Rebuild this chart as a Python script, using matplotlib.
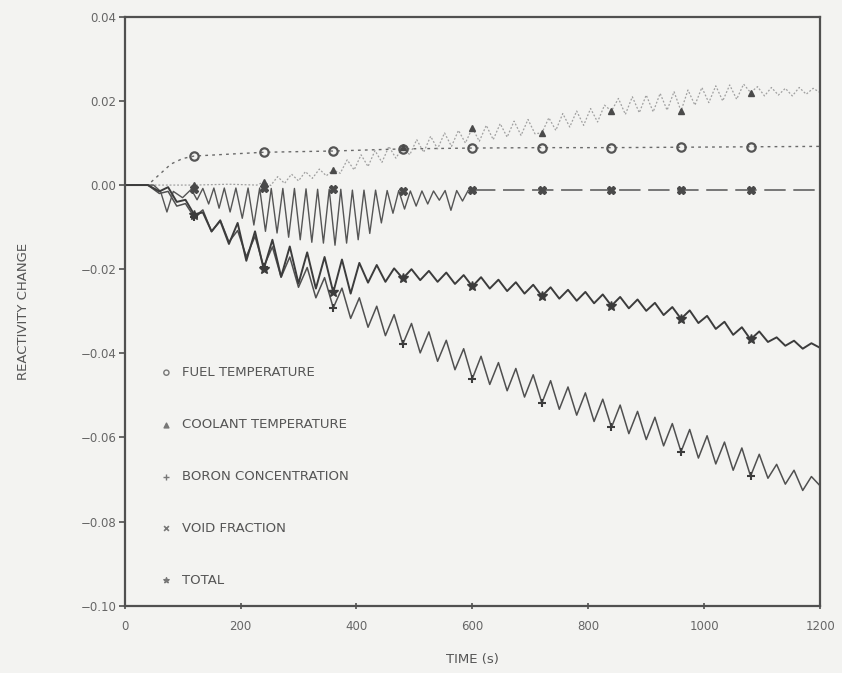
import matplotlib
matplotlib.use("Agg")
import matplotlib.pyplot as plt

# marker times (s), shared by all curves
mark_t = [120, 240, 360, 480, 600, 720, 840, 960, 1080]

# fuel temperature
fuel_t = [0, 40, 60, 80, 100, 120, 240, 360, 480, 600, 720, 840, 960, 1080, 1200]
fuel_y = [0, 0, 0.0025, 0.0050, 0.0063, 0.0069, 0.0078, 0.0081, 0.0086, 0.0088,
          0.0089, 0.0089, 0.0090, 0.0091, 0.0092]
fuel_mark = [0.0069, 0.0078, 0.0081, 0.0086, 0.0088, 0.0089, 0.0089, 0.0090, 0.0091]

# coolant temperature
cool_t = [0, 120, 180, 228,
          240, 252, 264, 276, 288, 300, 312, 324, 336, 348, 360, 372, 384, 396, 408, 420,
          432, 444, 456, 468, 480, 492, 504, 516, 528, 540, 552, 564, 576, 588, 600, 612,
          624, 636, 648, 660, 672, 684, 696, 708, 720, 732, 744, 756, 768, 780, 792, 804,
          816, 828, 840, 852, 864, 876, 888, 900, 912, 924, 936, 948, 960, 972, 984, 996,
          1008, 1020, 1032, 1044, 1056, 1068, 1080, 1092, 1104, 1116, 1128, 1140, 1152,
          1164, 1176, 1188, 1200]
cool_y = [0, 0, 0.0002, 0.0,
          0.0007, -0.0001, 0.0020, 0.0004, 0.0026, 0.0010, 0.0032, 0.0016, 0.0038, 0.0022,
          0.0036, 0.0028, 0.0060, 0.0036, 0.0072, 0.0044, 0.0082, 0.0054, 0.0092, 0.0064,
          0.0090, 0.0072, 0.0108, 0.0078, 0.0116, 0.0086, 0.0124, 0.0092, 0.0130, 0.0100,
          0.0136, 0.0104, 0.0142, 0.0108, 0.0146, 0.0114, 0.0152, 0.0118, 0.0156, 0.0122,
          0.0124, 0.0160, 0.0130, 0.0170, 0.0138, 0.0176, 0.0142, 0.0182, 0.0150, 0.0190,
          0.0176, 0.0206, 0.0168, 0.0210, 0.0172, 0.0214, 0.0174, 0.0218, 0.0178, 0.0222,
          0.0176, 0.0226, 0.0190, 0.0232, 0.0196, 0.0236, 0.0200, 0.0238, 0.0204, 0.0240,
          0.0220, 0.0234, 0.0212, 0.0232, 0.0214, 0.0230, 0.0212, 0.0232, 0.0216, 0.0230,
          0.0220]
cool_mark = [0.0, 0.0007, 0.0036, 0.0090, 0.0136, 0.0124, 0.0176, 0.0176, 0.0220]

# boron concentration and total share one time base
osc_t = [0, 40, 60, 75, 90, 105, 120, 135, 150, 165, 180, 195, 210, 225, 240, 255, 270,
         285, 300, 315, 330, 345, 360, 375, 390, 405, 420, 435, 450, 465, 480, 495, 510,
         525, 540, 555, 570, 585, 600, 615, 630, 645, 660, 675, 690, 705, 720, 735, 750,
         765, 780, 795, 810, 825, 840, 855, 870, 885, 900, 915, 930, 945, 960, 975, 990,
         1005, 1020, 1035, 1050, 1065, 1080, 1095, 1110, 1125, 1140, 1155, 1170, 1185, 1200]

boron_y = [0, 0, -0.0020, -0.0015, -0.0050, -0.0044, -0.0076, -0.0059, -0.0111, -0.0083,
           -0.0135, -0.0108, -0.0170, -0.0122, -0.0194, -0.0147, -0.0219, -0.0171, -0.0243,
           -0.0196, -0.0268, -0.0220, -0.0292, -0.0245, -0.0317, -0.0268, -0.0338, -0.0288,
           -0.0358, -0.0308, -0.0378, -0.0329, -0.0399, -0.0349, -0.0419, -0.0369, -0.0439,
           -0.0389, -0.0460, -0.0407, -0.0474, -0.0422, -0.0489, -0.0436, -0.0504, -0.0451,
           -0.0518, -0.0465, -0.0533, -0.0480, -0.0547, -0.0494, -0.0562, -0.0509, -0.0576,
           -0.0523, -0.0591, -0.0538, -0.0605, -0.0552, -0.0620, -0.0567, -0.0634, -0.0581,
           -0.0649, -0.0596, -0.0663, -0.0611, -0.0678, -0.0625, -0.0692, -0.0640, -0.0697,
           -0.0664, -0.0711, -0.0678, -0.0726, -0.0693, -0.0715]
boron_mark = [-0.0076, -0.0194, -0.0292, -0.0378, -0.0460, -0.0518, -0.0576, -0.0634, -0.0692]

total_y = [0, 0, -0.0015, -0.0005, -0.0040, -0.0035, -0.0070, -0.0065, -0.0110, -0.0085,
           -0.0140, -0.0090, -0.0180, -0.0110, -0.0200, -0.0130, -0.0218, -0.0146, -0.0234,
           -0.0160, -0.0246, -0.0171, -0.0255, -0.0177, -0.0258, -0.0185, -0.0232, -0.0190,
           -0.0230, -0.0198, -0.0222, -0.0200, -0.0226, -0.0204, -0.0230, -0.0208, -0.0235,
           -0.0214, -0.0241, -0.0219, -0.0246, -0.0225, -0.0252, -0.0231, -0.0258, -0.0237,
           -0.0264, -0.0243, -0.0270, -0.0249, -0.0275, -0.0254, -0.0281, -0.0260, -0.0287,
           -0.0266, -0.0293, -0.0272, -0.0299, -0.0280, -0.0309, -0.0290, -0.0318, -0.0298,
           -0.0328, -0.0311, -0.0342, -0.0325, -0.0356, -0.0338, -0.0367, -0.0348, -0.0373,
           -0.0362, -0.0382, -0.0370, -0.0389, -0.0376, -0.0387]
total_mark = [-0.0070, -0.0200, -0.0255, -0.0222, -0.0241, -0.0264, -0.0287, -0.0318, -0.0367]

# void fraction (spiky part up to ~600 s, then flat)
void_t = [0, 50, 62, 73, 84, 100, 115, 125, 135, 145, 154, 163, 172,
          182, 192, 203, 213, 223, 233, 243, 253, 263, 273, 283, 293, 303, 313, 323, 333,
          343, 353, 363, 373, 383, 393, 403, 413, 423, 433, 443, 453, 463, 473, 483, 493,
          503, 513, 523, 533, 543, 553, 563, 573, 583, 593, 603]
void_y = [0, 0, -0.0015, -0.0064, -0.0015, -0.0030, -0.0010, -0.0035, -0.0008, -0.0045,
          -0.0007, -0.0055, -0.0007,
          -0.0064, -0.0007, -0.0079, -0.0007, -0.0095, -0.0007, -0.0110, -0.0008, -0.0114,
          -0.0008, -0.0124, -0.0008, -0.0130, -0.0009, -0.0136, -0.0010, -0.0138, -0.0010,
          -0.0143, -0.0010, -0.0138, -0.0012, -0.0130, -0.0012, -0.0115, -0.0012, -0.0090,
          -0.0013, -0.0067, -0.0013, -0.0057, -0.0014, -0.0050, -0.0014, -0.0045, -0.0014,
          -0.0036, -0.0013, -0.0060, -0.0013, -0.0038, -0.0012, -0.0012]
void_flat_t = [603, 1200]
void_flat_y = [-0.0012, -0.0012]
void_mark = [-0.0010, -0.0007, -0.0010, -0.0014, -0.0012, -0.0012, -0.0012, -0.0012, -0.0012]

labels = ["FUEL TEMPERATURE", "COOLANT TEMPERATURE", "BORON CONCENTRATION",
          "VOID FRACTION", "TOTAL"]

bg = "#f3f3f1"

fig = plt.figure(figsize=(8.42, 6.73), dpi=100, facecolor=bg)
ax = fig.add_axes([0.148, 0.100, 0.826, 0.875], facecolor=bg)

ax.plot(fuel_t, fuel_y, color="#6a6a6a", lw=1.0, ls=(0, (2, 3)))
ax.plot(cool_t, cool_y, color="#a0a0a0", lw=0.9, ls=(0, (1.5, 1.5)))
ax.plot(osc_t, boron_y, color="#505050", lw=1.1, solid_joinstyle="round")
ax.plot(void_t, void_y, color="#555555", lw=1.0, solid_joinstyle="round")
ax.plot(void_flat_t, void_flat_y, color="#555555", lw=1.1, ls=(0, (14, 5)))
ax.plot(osc_t, total_y, color="#3c3c3c", lw=1.4, solid_joinstyle="round")

ax.plot(mark_t, fuel_mark, ls="none", marker="o", ms=6, mfc="none", mec="#555555", mew=1.6)
ax.plot(mark_t, cool_mark, ls="none", marker="^", ms=5, color="#4a4a4a")
ax.plot(mark_t, boron_mark, ls="none", marker="+", ms=6, mew=1.5, color="#3c3c3c")
ax.plot(mark_t, void_mark, ls="none", marker="X", ms=6, color="#4a4a4a")
ax.plot(mark_t, total_mark, ls="none", marker="*", ms=7, color="#3c3c3c")

# legend (markers only)
h = [
    ax.scatter([], [], marker="o", s=14, facecolors="none", edgecolors="#777777", linewidths=1.0),
    ax.scatter([], [], marker="^", s=12, color="#777777"),
    ax.scatter([], [], marker="+", s=16, color="#777777", linewidths=1.0),
    ax.scatter([], [], marker="x", s=12, color="#777777", linewidths=1.2),
    ax.scatter([], [], marker="*", s=16, color="#777777"),
]
leg = ax.legend(h, labels, loc="upper left", bbox_to_anchor=(0.043, 0.418), frameon=False,
                fontsize=9.5, labelspacing=2.95, handletextpad=0.75, handlelength=0.8,
                borderpad=0)
for txt in leg.get_texts():
    txt.set_color("#555555")

ax.set_xlim(0, 1200)
ax.set_ylim(-0.10, 0.04)
ax.set_xticks([0, 200, 400, 600, 800, 1000, 1200])
ax.set_yticks([0.04, 0.02, 0.00, -0.02, -0.04, -0.06, -0.08, -0.10])
ax.set_yticklabels(["0.04", "0.02", "0.00", "\u22120.02", "\u22120.04", "\u22120.06",
                    "\u22120.08", "\u22120.10"])

for s in ax.spines.values():
    s.set_color("#505050")
    s.set_linewidth(1.6)
ax.tick_params(axis="y", direction="out", length=4, width=1.2, colors="#505050",
               labelcolor="#666666", labelsize=8.5, pad=2)
ax.tick_params(axis="x", direction="inout", length=5, width=1.2, colors="#505050",
               labelcolor="#666666", labelsize=8.5, pad=8)

ax.set_xlabel("TIME (s)", fontsize=9.5, color="#555555", labelpad=14)
ax.set_ylabel("REACTIVITY CHANGE", fontsize=9.5, color="#555555", labelpad=36)

fig.savefig("out.png", dpi=100, facecolor=bg)
